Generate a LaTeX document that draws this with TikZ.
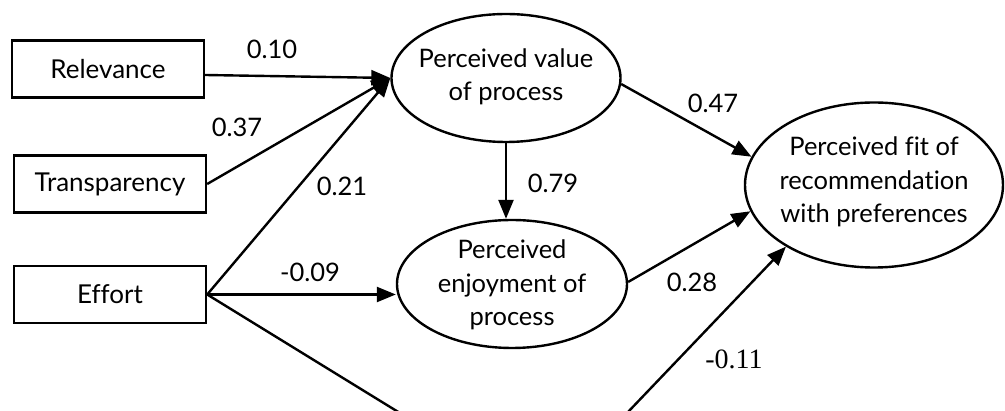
\documentclass[tikz,border=0pt]{standalone}
\usepackage{fontspec}
\setmainfont{Lato}[Ligatures=NoCommon]
\newfontfamily\coefserif{Liberation Serif}
\usetikzlibrary{shapes.geometric,arrows.meta,calc}

\begin{document}
\begin{tikzpicture}[x=1pt,y=-1pt,
  lw/.style={line width=2.4pt},
  varbox/.style={draw, lw, minimum width=192pt, minimum height=57pt, inner sep=0pt,
                 font=\fontsize{26}{34}\selectfont},
  oval/.style={draw, ellipse, lw, inner sep=0pt},
  ovaltext/.style={align=center, inner sep=0pt, font=\fontsize{25.5}{33.5}\selectfont},
  coef/.style={inner sep=0pt, font=\fontsize{25.5}{28}\selectfont},
  effect/.style={lw, -{Triangle[length=19pt,width=15pt]}},
]
  \path[use as bounding box] (0,0) rectangle (1005,411);
  \clip (0,0) rectangle (1005,411);

  % observed variables
  \node[varbox] (rel)   at (108,69)    {Relevance};
  \node[varbox] (trans) at (110,184)   {Transparency};
  \node[varbox] (eff)   at (110,294.5) {Effort};

  % latent constructs
  \node[oval, minimum width=229pt, minimum height=128pt] (value) at (506,78) {};
  \node[ovaltext] (valuetext) at (506,77) {Perceived value\\of process};

  \node[oval, minimum width=230pt, minimum height=128pt] (enjoy) at (512,284) {};
  \node[ovaltext] (enjoytext) at (512,285) {Perceived\\enjoyment of\\process};

  \node[oval, minimum width=258pt, minimum height=165pt] (fit) at (874,185) {};
  \node[ovaltext] (fittext) at (874,182) {Perceived fit of\\recommendation\\with preferences};

  % paths
  \draw[effect] ($(rel.east)+(0,6)$) -- (value.west);
  \draw[effect] (trans.east) -- (value.west);
  \draw[effect] (eff.east)   -- (value.west);
  \draw[effect] (eff.east)   -- (eff.east -| enjoy.west);
  \draw[effect] (value.south) -- (value.south |- enjoy.north);
  \draw[effect] (value.-3)   -- (fit.167);
  \draw[effect] (enjoy.1)    -- (fit.192);
  \coordinate (low) at (543,501);
  \draw[effect] (eff.east) -- (low) -- (fit.215);

  % path coefficients
  \node[coef] (c10) at (272,49)  {0.10};
  \node[coef] (c37) at (237,127) {0.37};
  \node[coef] (c21) at (342,186) {0.21};
  \node[coef] (c09) at (310,272) {-0.09};
  \node[coef] (c79) at (553,183) {0.79};
  \node[coef] (c47) at (713,103) {0.47};
  \node[coef] (c28) at (692,282) {0.28};
  \node[coef, font=\coefserif\fontsize{28}{30}\selectfont] (c11) at (734,359) {-0.11};
\end{tikzpicture}
\end{document}
